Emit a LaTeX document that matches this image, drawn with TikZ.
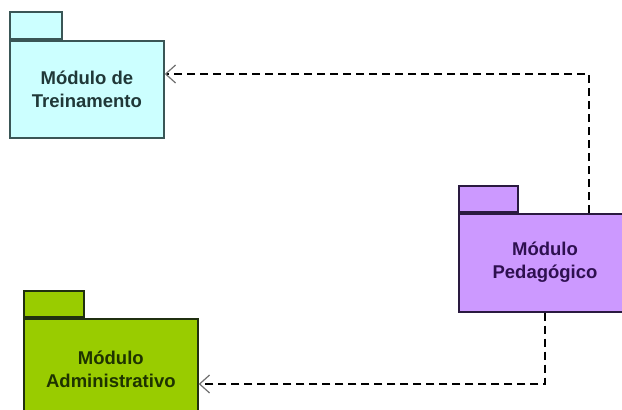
\documentclass[tikz,border=0pt]{standalone}
\usepackage{fontspec}
\setmainfont{Liberation Sans}
\usetikzlibrary{arrows.meta}
\definecolor{treinFill}{HTML}{CCFFFF}
\definecolor{treinLine}{HTML}{3A5656}
\definecolor{treinText}{HTML}{203838}
\definecolor{pedFill}{HTML}{CC99FF}
\definecolor{pedLine}{HTML}{2A1A40}
\definecolor{pedText}{HTML}{2E1050}
\definecolor{admFill}{HTML}{99CC00}
\definecolor{admLine}{HTML}{203010}
\definecolor{admText}{HTML}{1E3300}
\definecolor{tipGray}{HTML}{707070}
\begin{document}
\begin{tikzpicture}[x=1pt,y=-1pt,
  pkgbody/.style={draw, line width=1.7pt, rectangle, inner sep=0pt, anchor=north west,
    font=\bfseries\fontsize{18.5}{23}\selectfont, align=center},
  pkgtab/.style={draw, line width=1.7pt, rectangle, inner sep=0pt, anchor=south west},
  dep/.style={dashed, dash pattern=on 8pt off 5pt, line width=1.4pt,
    -{Straight Barb[length=10pt,width=18pt,line width=1.2pt,color=tipGray]}}
]
\useasboundingbox (0,0) rectangle (622,410);
\clip (0,0) rectangle (622,410);

% Módulo de Treinamento
\node[pkgtab, fill=treinFill, draw=treinLine, minimum width=52pt, minimum height=27pt]
  (trtab) at (9,40) {};
\node[pkgbody, fill=treinFill, draw=treinLine, text=treinText,
  minimum width=154pt, minimum height=97pt] (trein) at (9,40) {Módulo de\\Treinamento};

% Módulo Pedagógico (runs past the right edge; label kept centred near x=545)
\node[pkgtab, fill=pedFill, draw=pedLine, minimum width=59pt, minimum height=26pt]
  (pdtab) at (458,213) {};
\node[pkgbody, fill=pedFill, draw=pedLine, minimum width=240pt, minimum height=98pt]
  (ped) at (458,213) {};
\node[font=\bfseries\fontsize{18.5}{23}\selectfont, align=center, text=pedText]
  (pedlabel) at (545,262) {Módulo\\Pedagógico};

% Módulo Administrativo (runs past the bottom edge)
\node[pkgtab, fill=admFill, draw=admLine, minimum width=60pt, minimum height=26pt]
  (adtab) at (23,318) {};
\node[pkgbody, fill=admFill, draw=admLine, text=admText,
  minimum width=174pt, minimum height=100pt] (adm) at (23,318) {Módulo\\Administrativo};

% dependencies
\coordinate (c1) at (589,74);
\coordinate (c2) at (545,384);
\draw[dep] (ped.north -| c1) -- (c1) -- (c1 -| trein.east);
\draw[dep] (ped.south -| c2) -- (c2) -- (c2 -| adm.east);
\end{tikzpicture}
\end{document}
